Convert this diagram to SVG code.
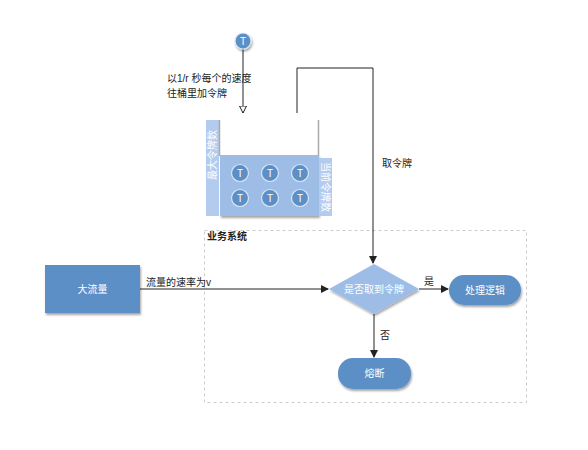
<svg xmlns="http://www.w3.org/2000/svg" width="588" height="450" viewBox="0 0 588 450">
<defs>
<style>
text{font-family:"Liberation Sans","Noto Sans CJK SC",sans-serif;font-size:10px;fill:#222}
.w{fill:#fff;text-anchor:middle}
.node{fill:#5b8fc5}
.light{fill:#9dbde6}
.bar{fill:#b3cbee}
.tok{fill:#5b8fc5;stroke:#dbe7f5;stroke-width:1.2}
.ln{stroke:#222;stroke-width:1;fill:none}
.gl{stroke:#aaa;stroke-width:1.5;fill:none}
</style>
<marker id="ah" markerWidth="8" markerHeight="8" refX="7" refY="4" orient="auto" markerUnits="userSpaceOnUse">
<path d="M0,0 L8,4 L0,8 Z" fill="#222"/>
</marker>
<marker id="oh" markerWidth="8" markerHeight="8" refX="7" refY="4" orient="auto" markerUnits="userSpaceOnUse">
<path d="M0,0.5 L7,4 L0,7.5 Z" fill="#fff" stroke="#222" stroke-width="1"/>
</marker>
<filter id="sh" x="-10%" y="-10%" width="130%" height="140%">
<feDropShadow dx="1" dy="2" stdDeviation="1" flood-color="#000" flood-opacity="0.35"/>
</filter>
</defs>
<rect width="588" height="450" fill="#fff"/>

<g id="source-token">
<line class="ln" x1="243" y1="48" x2="243" y2="113" stroke="#555" marker-end="url(#oh)"/>
<circle cx="243" cy="41" r="8" class="tok" filter="url(#sh)"/>
<text x="243" y="45" class="w" font-size="9">T</text>
<text x="167" y="82">以1/r 秒每个的速度</text>
<text x="167" y="97">往桶里加令牌</text>
</g>

<g id="bucket">
<rect x="206" y="120" width="13" height="96" class="bar"/>
<text transform="translate(216,155) rotate(-90)" class="w" font-size="8">最大令牌数</text>
<rect x="220" y="155" width="99" height="61" class="light" filter="url(#sh)"/>
<line class="gl" x1="219.5" y1="120" x2="219.5" y2="156"/>
<line class="gl" x1="318.5" y1="120" x2="318.5" y2="156"/>
<rect x="319" y="158" width="13" height="58" class="bar"/>
<text transform="translate(322,187) rotate(90)" class="w" font-size="8">当前令牌数</text>
<g font-size="9">
<circle cx="240" cy="173" r="8.5" class="tok"/><text x="240" y="176.5" class="w" font-size="9">T</text>
<circle cx="270" cy="173" r="8.5" class="tok"/><text x="270" y="176.5" class="w" font-size="9">T</text>
<circle cx="300" cy="173" r="8.5" class="tok"/><text x="300" y="176.5" class="w" font-size="9">T</text>
<circle cx="240" cy="198" r="8.5" class="tok"/><text x="240" y="201.5" class="w" font-size="9">T</text>
<circle cx="270" cy="198" r="8.5" class="tok"/><text x="270" y="201.5" class="w" font-size="9">T</text>
<circle cx="300" cy="198" r="8.5" class="tok"/><text x="300" y="201.5" class="w" font-size="9">T</text>
</g>
</g>

<g id="system">
<rect x="204.5" y="230.5" width="322" height="172" fill="none" stroke="#ccc" stroke-dasharray="3,3"/>
<text x="207" y="240" font-weight="bold">业务系统</text>
</g>

<g id="big-traffic">
<rect x="45" y="265" width="95" height="48" class="node" filter="url(#sh)"/>
<text x="92.5" y="293" class="w">大流量</text>
</g>

<g id="decision">
<path d="M374,264 L419,289 L374,314 L329,289 Z" class="light" filter="url(#sh)"/>
<text x="374" y="292.5" class="w" font-size="9">是否取到令牌</text>
</g>

<g id="process">
<rect x="449" y="275" width="72" height="30" rx="15" class="node" filter="url(#sh)"/>
<text x="485" y="293.5" class="w">处理逻辑</text>
</g>

<g id="fuse">
<rect x="338" y="358" width="73" height="31" rx="15" class="node" filter="url(#sh)"/>
<text x="374.5" y="377" class="w">熔断</text>
</g>

<g id="connectors">
<path class="ln" d="M297,113 V68 H373 V263" marker-end="url(#ah)"/>
<text x="382" y="167">取令牌</text>
<path class="ln" d="M140,289 H328" marker-end="url(#ah)"/>
<text x="146" y="286">流量的速率为v</text>
<path class="ln" d="M419,289 H448" marker-end="url(#ah)"/>
<text x="424" y="285">是</text>
<path class="ln" d="M374,314 V357" marker-end="url(#ah)"/>
<text x="380" y="339">否</text>
</g>
</svg>
